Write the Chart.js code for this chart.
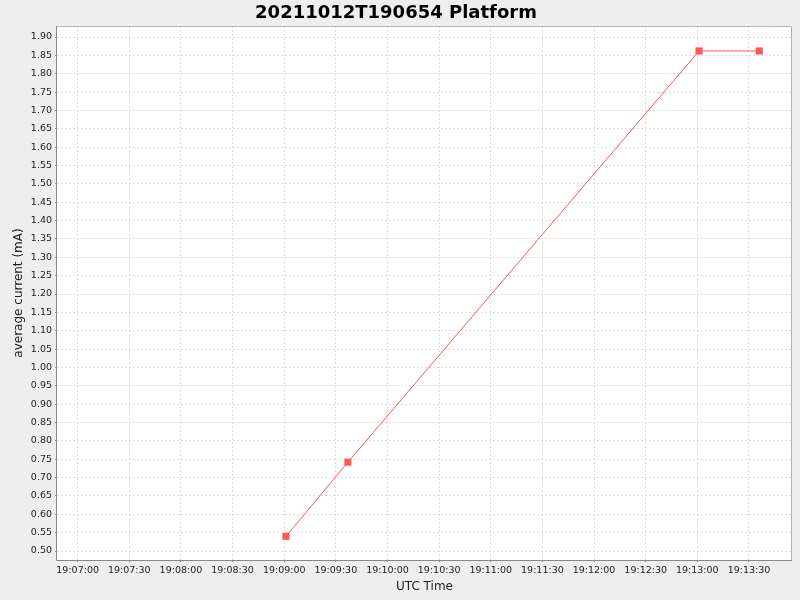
<!DOCTYPE html>
<html>
<head>
<meta charset="utf-8">
<script src="https://cdn.jsdelivr.net/npm/chart.js@4/dist/chart.umd.min.js"></script>
<style>
  body { margin: 0; background: #eeeeee; }
  canvas { display: block; }
</style>
</head>
<body>
<canvas id="canvas" width="800" height="600"></canvas>
<script>
// data
const sampleTimes = ["19:09:01", "19:09:37", "19:13:01", "19:13:36"];
const currentValues = [0.540, 0.742, 1.862, 1.862];

const xTickLabels = ["19:07:00", "19:07:30", "19:08:00", "19:08:30", "19:09:00", "19:09:30",
  "19:10:00", "19:10:30", "19:11:00", "19:11:30", "19:12:00", "19:12:30", "19:13:00", "19:13:30"];
const yTickValues = [0.50, 0.55, 0.60, 0.65, 0.70, 0.75, 0.80, 0.85, 0.90, 0.95, 1.00, 1.05, 1.10,
  1.15, 1.20, 1.25, 1.30, 1.35, 1.40, 1.45, 1.50, 1.55, 1.60, 1.65, 1.70, 1.75, 1.80, 1.85, 1.90];

const xRange = ["19:06:48", "19:13:55"];
const yRange = [0.4755, 1.930];

function toSec(t) {
  var p = t.split(":");
  return (+p[0]) * 3600 + (+p[1]) * 60 + (+p[2]);
}
function fmtSec(s) {
  s = Math.round(s);
  var h = Math.floor(s / 3600), m = Math.floor((s % 3600) / 60), sec = s % 60;
  function pad(n) { return (n < 10 ? "0" : "") + n; }
  return pad(h) + ":" + pad(m) + ":" + pad(sec);
}

var points = sampleTimes.map(function(t, i) { return { x: toSec(t), y: currentValues[i] }; });

var plotFrame = {
  id: 'plotFrame',
  beforeDraw: function(chart) {
    var ctx = chart.ctx, a = chart.chartArea;
    ctx.save();
    ctx.fillStyle = '#eeeeee';
    ctx.fillRect(0, 0, chart.width, chart.height);
    ctx.fillStyle = '#ffffff';
    ctx.fillRect(a.left, a.top, a.right - a.left, a.bottom - a.top);
    ctx.restore();
  },
  afterDraw: function(chart) {
    var ctx = chart.ctx, a = chart.chartArea;
    ctx.save();
    ctx.lineWidth = 1;
    ctx.strokeStyle = '#b4b4b4';
    ctx.beginPath();
    ctx.moveTo(a.left, a.top + 0.5);
    ctx.lineTo(a.right - 0.5, a.top + 0.5);
    ctx.lineTo(a.right - 0.5, a.bottom);
    ctx.stroke();
    ctx.strokeStyle = '#888888';
    ctx.beginPath();
    ctx.moveTo(a.left - 0.5, a.top);
    ctx.lineTo(a.left - 0.5, a.bottom + 0.5);
    ctx.lineTo(a.right, a.bottom + 0.5);
    ctx.stroke();
    ctx.restore();
  }
};

var ctx = document.getElementById('canvas').getContext('2d');
var myLineChart = new Chart(ctx, {
  type: 'line',
  data: {
    datasets: [{
      label: 'Platform',
      data: points,
      borderColor: '#ff5555',
      backgroundColor: '#ff5555',
      borderWidth: 1,
      pointStyle: 'rect',
      pointRadius: 5,
      pointBorderWidth: 0,
      pointHoverRadius: 5,
      tension: 0,
      fill: false
    }]
  },
  options: {
    responsive: false,
    animation: false,
    devicePixelRatio: 1,
    layout: { padding: { left: 0, right: 8, top: 0, bottom: 0 } },
    plugins: {
      legend: { display: false },
      tooltip: { enabled: false },
      title: {
        display: true,
        text: '20211012T190654 Platform',
        color: '#000000',
        font: { family: 'DejaVu Sans', size: 18, weight: 'bold' },
        padding: { top: 3, bottom: 1.4 }
      }
    },
    scales: {
      x: {
        type: 'linear',
        min: toSec(xRange[0]),
        max: toSec(xRange[1]),
        afterBuildTicks: function(scale) {
          scale.ticks = xTickLabels.map(function(l) { return { value: toSec(l) }; });
        },
        afterFit: function(scale) { scale.height = 40; },
        ticks: {
          autoSkip: false,
          maxRotation: 0,
          padding: 3,
          color: '#222222',
          font: { family: 'DejaVu Sans', size: 9.5 },
          callback: function(v) { return fmtSec(v); }
        },
        grid: {
          color: '#dddddd',
          lineWidth: 1,
          tickLength: 2,
          tickColor: '#888888',
          tickBorderDash: []
        },
        border: { display: false, dash: [2, 2] },
        title: {
          display: true,
          text: 'UTC Time',
          color: '#222222',
          font: { family: 'DejaVu Sans', size: 12 },
          padding: { top: 0, bottom: 6 }
        }
      },
      y: {
        type: 'linear',
        min: yRange[0],
        max: yRange[1],
        afterBuildTicks: function(scale) {
          scale.ticks = yTickValues.map(function(v) { return { value: v }; });
        },
        afterFit: function(scale) { scale.width = 57; },
        ticks: {
          autoSkip: false,
          padding: 3,
          color: '#222222',
          font: { family: 'DejaVu Sans', size: 9.5 },
          callback: function(v) { return v.toFixed(2); }
        },
        grid: {
          color: '#dddddd',
          lineWidth: 1,
          tickLength: 2,
          tickColor: '#888888',
          tickBorderDash: []
        },
        border: { display: false, dash: [2, 2] },
        title: {
          display: true,
          text: 'average current (mA)',
          color: '#222222',
          font: { family: 'DejaVu Sans', size: 12 },
          padding: { top: 12, bottom: 0 }
        }
      }
    }
  },
  plugins: [plotFrame]
});
</script>
</body>
</html>
